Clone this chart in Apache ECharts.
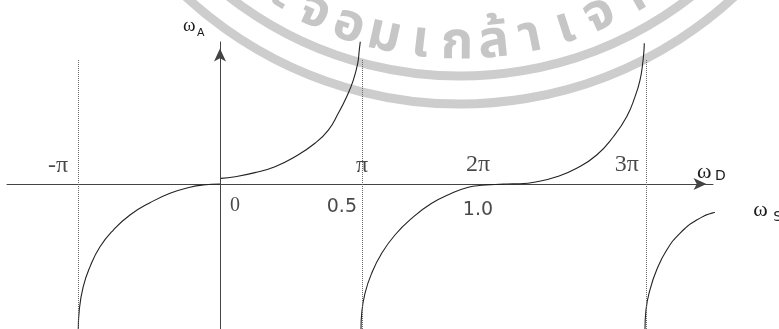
<!DOCTYPE html>
<html>
<head>
<meta charset="utf-8">
<script src="https://cdn.jsdelivr.net/npm/echarts@6/dist/echarts.min.js"></script>
<style>
  html, body { margin: 0; padding: 0; background: #fff; }
  #chart { width: 779px; height: 329px; }
</style>
</head>
<body>
<div id="chart"></div>
<script>
// ω_D is measured in multiples of π, ω_A in relative units.
const branchNeg = [
  [-0.998, -1.021], [-0.991, -0.887], [-0.963, -0.723], [-0.915, -0.582],
  [-0.845, -0.442], [-0.751, -0.324], [-0.634, -0.218], [-0.493, -0.132],
  [-0.352, -0.065], [-0.211, -0.023], [-0.118, -0.007], [0, 0]
];
const branchPos = [
  [0.007, 0.040], [0.106, 0.051], [0.246, 0.080], [0.387, 0.122],
  [0.528, 0.192], [0.669, 0.287], [0.763, 0.380], [0.833, 0.498],
  [0.892, 0.615], [0.939, 0.732], [0.970, 0.850], [0.981, 0.944], [0.988, 1.002]
];
const branchMid = [
  [0.993, -1.021], [0.998, -0.911], [1.021, -0.770], [1.068, -0.629],
  [1.139, -0.488], [1.232, -0.359], [1.350, -0.242], [1.491, -0.136],
  [1.632, -0.065], [1.749, -0.023], [1.843, -0.009], [1.937, -0.003],
  [2.020, 0], [2.113, 0.002], [2.230, 0.016], [2.371, 0.051],
  [2.512, 0.111], [2.653, 0.204], [2.770, 0.333], [2.864, 0.474],
  [2.923, 0.615], [2.958, 0.732], [2.977, 0.850], [2.986, 0.944], [2.988, 0.991]
];
const branchEnd = [
  [2.993, -1.021], [3.000, -0.887], [3.028, -0.746], [3.075, -0.606],
  [3.146, -0.465], [3.239, -0.347], [3.357, -0.254], [3.474, -0.202],
  [3.592, -0.183], [3.650, -0.178]
];

const poleLines = [-1, 1, 3];
const piTickValues = [-1, 1, 2, 3];
const piTickLabels = ['-π', 'π', '2π', '3π'];
const fsTickValues = [0, 1, 2];
const fsTickLabels = ['0', '0.5', '1.0'];
const sealText = ['ะ', 'จ', 'อ', 'ม', 'เ', 'ก', 'ล้', 'า', 'เ', 'จ้', 'า'];

const INK = '#222';
const AXIS = '#444';
const SERIF = '"Liberation Serif", "Times New Roman", serif';
const SANS = '"DejaVu Sans", Verdana, sans-serif';

// label placement relative to each tick point
const piLabelLayout = [
  { align: 'right', dx: -10, dy: -18 },
  { align: 'center', dx: 0, dy: -18 },
  { align: 'center', dx: -26, dy: -19 },
  { align: 'right', dx: -7, dy: -19 }
];
const fsLabelLayout = [
  { align: 'left', dx: 10, dy: 22, font: SERIF, size: 20 },
  { align: 'right', dx: -5, dy: 23, font: SANS, size: 19 },
  { align: 'center', dx: -26, dy: 26, font: SANS, size: 19 }
];

function curve(name, data) {
  return {
    name, type: 'line', data,
    showSymbol: false, symbol: 'none',
    smooth: 0.5,
    clip: false, silent: true, z: 3,
    lineStyle: { color: INK, width: 1.1 }
  };
}

function tickLabels(values, texts, layout, fontFor, sizeFor) {
  return {
    type: 'scatter', symbolSize: 0, silent: true, clip: false, z: 4,
    data: values.map((v, i) => ({
      value: [v, 0],
      label: {
        show: true,
        formatter: texts[i],
        position: [layout[i].dx, layout[i].dy],
        align: layout[i].align,
        verticalAlign: 'middle',
        color: '#1a1a1a',
        fontFamily: fontFor(i),
        fontSize: sizeFor(i)
      }
    }))
  };
}

const chart = echarts.init(document.getElementById('chart'), null, { renderer: 'canvas' });

const option = {
  animation: false,
  backgroundColor: '#fff',
  grid: { left: 7, right: 66, top: 42, bottom: 0, containLabel: false },
  xAxis: {
    type: 'value', min: -1.5, max: 3.472,
    axisLine: {
      show: true, onZero: true,
      symbol: ['none', 'arrow'], symbolSize: [9, 13], symbolOffset: [0, -6.5],
      lineStyle: { color: AXIS, width: 1 }
    },
    axisTick: { show: false }, axisLabel: { show: false }, splitLine: { show: false }
  },
  yAxis: {
    type: 'value', min: -1.021, max: 1.0,
    axisLine: {
      show: true, onZero: true,
      symbol: ['none', 'arrow'], symbolSize: [9, 13], symbolOffset: [0, -6.5],
      lineStyle: { color: AXIS, width: 1 }
    },
    axisTick: { show: false }, axisLabel: { show: false }, splitLine: { show: false }
  },
  series: [
    Object.assign(curve('branchNeg', branchNeg), {
      markLine: {
        silent: true, symbol: 'none', label: { show: false },
        lineStyle: { color: '#666', type: 'dotted', width: 1 },
        data: poleLines.map(v => [{ coord: [v, 0.873] }, { coord: [v, -1.021] }])
      }
    }),
    curve('branchPos', branchPos),
    curve('branchMid', branchMid),
    curve('branchEnd', branchEnd),
    tickLabels(piTickValues, piTickLabels, piLabelLayout, () => SERIF, () => 24),
    tickLabels(fsTickValues, fsTickLabels, fsLabelLayout, i => fsLabelLayout[i].font, i => fsLabelLayout[i].size)
  ]
};
chart.setOption(option);

// axis names and the ω_S tag, placed from the axes' own pixel positions
const px = p => chart.convertToPixel({ gridIndex: 0 }, p);
const yTop = px([0, 1.0]);
const xEnd = px([3.472, 0]);
const sTag = px(branchEnd[branchEnd.length - 1]);

function txt(x, y, text, font) {
  return {
    type: 'text', x, y, z: 5, silent: true,
    style: { text, font, fill: '#1a1a1a', align: 'left', verticalAlign: 'middle' }
  };
}
function omega(anchor, w, sub) {
  return [
    txt(anchor[0] + w.dx, anchor[1] + w.dy, 'ω', w.size + 'px ' + SERIF),
    txt(anchor[0] + sub.dx, anchor[1] + sub.dy, sub.text, sub.size + 'px ' + SANS)
  ];
}

// seal printed faintly behind the figure
const sealCx = 460, sealCy = -300;
const seal = [
  { type: 'arc', shape: { cx: sealCx, cy: sealCy, r: 376, startAngle: Math.PI / 2 - 0.95, endAngle: Math.PI / 2 + 0.95 },
    style: { stroke: '#cdcdcd', lineWidth: 9, fill: null }, z: -1, silent: true },
  { type: 'arc', shape: { cx: sealCx, cy: sealCy, r: 404, startAngle: Math.PI / 2 - 0.95, endAngle: Math.PI / 2 + 0.95 },
    style: { stroke: '#cdcdcd', lineWidth: 9, fill: null }, z: -1, silent: true }
];
const sealR = 348, sealStart = -31, sealStep = 6.1;
sealText.forEach((ch, i) => {
  const a = (sealStart + i * sealStep) * Math.PI / 180;
  seal.push({
    type: 'text', silent: true, z: -1,
    x: sealCx + sealR * Math.sin(a), y: sealCy + sealR * Math.cos(a),
    rotation: a,
    style: { text: ch, font: 'bold 52px "Noto Sans Thai", "Noto Sans", sans-serif', fill: '#c6c6c6',
             align: 'center', verticalAlign: 'middle' }
  });
});

chart.setOption({
  graphic: seal.concat(
    omega(yTop, { dx: -37, dy: -16, size: 19 }, { text: 'A', dx: -23, dy: -9, size: 11 }),
    omega(xEnd, { dx: -16, dy: -12, size: 22 }, { text: 'D', dx: 2, dy: -8, size: 14 }),
    omega(sTag, { dx: 15, dy: 1, size: 22 }, { text: 'S', dx: 35, dy: 8, size: 14 })
  )
});
</script>
</body>
</html>
